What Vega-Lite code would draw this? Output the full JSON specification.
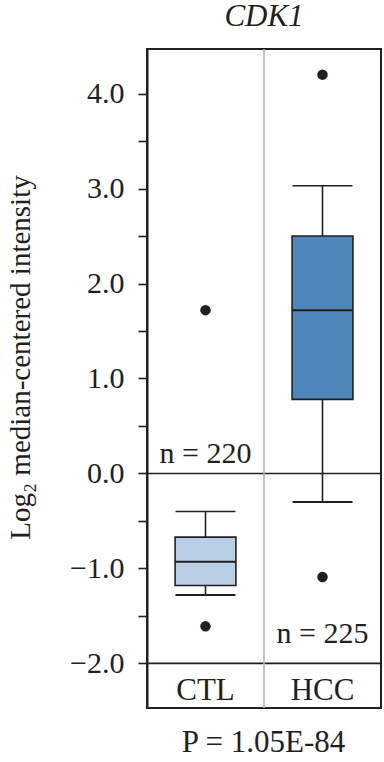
{
  "$schema": "https://vega.github.io/schema/vega-lite/v6.json",
  "autosize": {"type": "none"},
  "width": 234,
  "height": 659,
  "padding": {"left": 147, "top": 49, "right": 3, "bottom": 54},
  "background": "white",
  "title": {"text": "CDK1", "font": "Liberation Serif", "fontSize": 31, "fontStyle": "italic", "fontWeight": "normal", "color": "#231f20", "anchor": "middle", "offset": 15},
  "config": {
    "view": {"stroke": "#231f20", "strokeWidth": 2},
    "text": {"font": "Liberation Serif", "color": "#231f20"}
  },
  "datasets": {
    "boxes": [
      {"group": "CTL", "lo": -1.28, "q1": -1.18, "median": -0.93, "q3": -0.67, "hi": -0.40},
      {"group": "HCC", "lo": -0.30, "q1": 0.78, "median": 1.72, "q3": 2.50, "hi": 3.03}
    ],
    "outliers": [
      {"group": "CTL", "value": 1.72},
      {"group": "CTL", "value": -1.61},
      {"group": "HCC", "value": 4.20},
      {"group": "HCC", "value": -1.09}
    ],
    "hlines": [{"y": 0}, {"y": -2}],
    "sep": [{"group": "HCC"}],
    "nlabels": [
      {"group": "CTL", "y": 0.11, "label": "n = 220"},
      {"group": "HCC", "y": -1.79, "label": "n = 225"}
    ],
    "cats": [
      {"group": "CTL", "y": -2.385},
      {"group": "HCC", "y": -2.385}
    ]
  },
  "encoding": {
    "x": {
      "field": "group", "type": "nominal",
      "scale": {"domain": ["CTL", "HCC"], "paddingInner": 0, "paddingOuter": 0},
      "axis": {
        "title": "P = 1.05E-84", "labels": false, "ticks": false, "domain": false, "grid": false,
        "titleFont": "Liberation Serif", "titleFontSize": 31, "titleFontWeight": "normal", "titleColor": "#231f20",
        "titleBaseline": "middle", "titleY": 34, "titleX": 116, "titleAlign": "center"
      }
    }
  },
  "layer": [
    {
      "data": {"name": "hlines"},
      "mark": {"type": "rule", "color": "#231f20", "strokeWidth": 1.6},
      "encoding": {
        "x": null,
        "y": {"field": "y", "type": "quantitative", "scale": {"domain": [-2.47, 4.47], "nice": false, "zero": false},
          "axis": {
            "values": [-2, -1.5, -1, -0.5, 0, 0.5, 1, 1.5, 2, 2.5, 3, 3.5, 4],
            "labelExpr": "datum.value % 1 == 0 ? format(datum.value, '.1f') : ''",
            "grid": false, "domainColor": "#231f20", "domainWidth": 2,
            "tickColor": "#231f20", "tickWidth": 1.6, "tickSize": 9,
            "labelFont": "Liberation Serif", "labelFontSize": 30, "labelColor": "#231f20", "labelPadding": 14,
            "title": "Log₂ median-centered intensity",
            "titleFont": "Liberation Serif", "titleFontSize": 29, "titleFontWeight": "normal", "titleColor": "#231f20",
            "titleAngle": -90, "titleX": -127, "titleY": 308, "titleAlign": "center", "titleBaseline": "middle"
          }
        }
      }
    },
    {
      "data": {"name": "sep"},
      "mark": {"type": "rule", "color": "#b5b5b5", "strokeWidth": 1.6},
      "encoding": {"x": {"field": "group", "type": "nominal", "bandPosition": 0}}
    },
    {
      "data": {"name": "boxes"},
      "mark": {"type": "rule", "color": "#231f20", "strokeWidth": 1.6},
      "encoding": {
        "y": {"field": "lo", "type": "quantitative"},
        "y2": {"field": "hi"}
      }
    },
    {
      "data": {"name": "boxes"},
      "mark": {"type": "bar", "stroke": "#231f20", "strokeWidth": 1.6, "width": {"band": 0.52}},
      "encoding": {
        "y": {"field": "q1", "type": "quantitative"},
        "y2": {"field": "q3"},
        "color": {"field": "group", "type": "nominal", "scale": {"domain": ["CTL", "HCC"], "range": ["#b8cfe6", "#4f87bd"]}, "legend": null}
      }
    },
    {
      "data": {"name": "boxes"},
      "mark": {"type": "tick", "color": "#231f20", "thickness": 2, "size": 61, "opacity": 1},
      "encoding": {"y": {"field": "median", "type": "quantitative"}}
    },
    {
      "data": {"name": "boxes"},
      "mark": {"type": "tick", "color": "#231f20", "thickness": 2, "size": 60, "opacity": 1},
      "encoding": {"y": {"field": "lo", "type": "quantitative"}}
    },
    {
      "data": {"name": "boxes"},
      "mark": {"type": "tick", "color": "#231f20", "thickness": 1.6, "size": 60, "opacity": 1},
      "encoding": {"y": {"field": "hi", "type": "quantitative"}}
    },
    {
      "data": {"name": "outliers"},
      "mark": {"type": "point", "filled": true, "color": "#231f20", "size": 110, "opacity": 1},
      "encoding": {"y": {"field": "value", "type": "quantitative"}}
    },
    {
      "data": {"name": "nlabels"},
      "mark": {"type": "text", "fontSize": 30, "align": "center", "baseline": "alphabetic"},
      "encoding": {
        "y": {"field": "y", "type": "quantitative"},
        "text": {"field": "label"}
      }
    },
    {
      "data": {"name": "cats"},
      "mark": {"type": "text", "fontSize": 31, "align": "center", "baseline": "alphabetic"},
      "encoding": {
        "y": {"field": "y", "type": "quantitative"},
        "text": {"field": "group"}
      }
    }
  ]
}
